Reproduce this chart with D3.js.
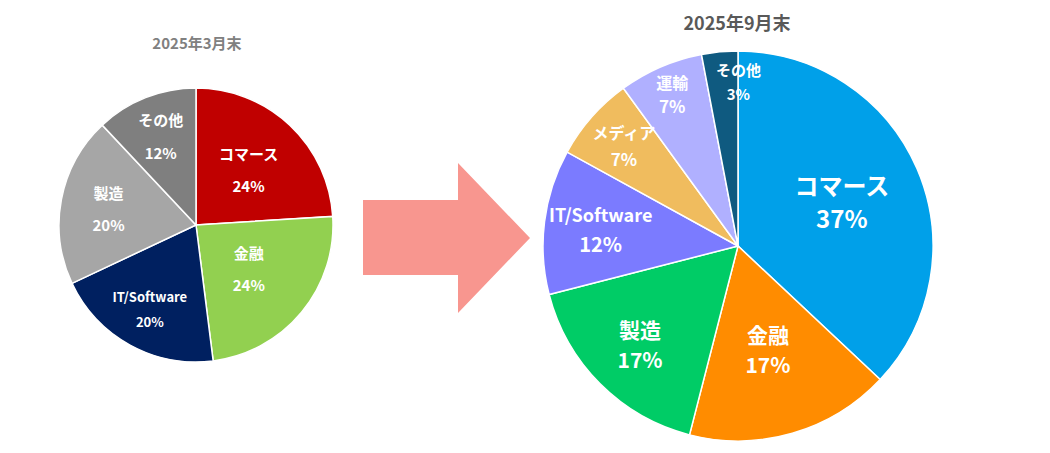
<!DOCTYPE html>
<html><head><meta charset="utf-8">
<script src="https://d3js.org/d3.v7.min.js"></script>
<style>body{margin:0;background:#fff}svg text{font-family:"Noto Sans CJK JP","Noto Sans",sans-serif;font-weight:bold}</style>
</head><body><svg id="c" width="1050" height="453"></svg>
<script>
const titles = ["2025年3月末", "2025年9月末"];
const marCats = ["コマース", "金融", "IT/Software", "製造", "その他"];
const marVals = [24, 24, 20, 20, 12];
const sepCats = ["コマース", "金融", "製造", "IT/Software", "メディア", "運輸", "その他"];
const sepVals = [37, 17, 17, 12, 7, 7, 3];

const marColors = ["#C00000", "#92D050", "#002060", "#A6A6A6", "#7F7F7F"];
const sepColors = ["#00A0E9", "#FF8C00", "#00CC66", "#7B7BFF", "#F0BC5E", "#B0B0FF", "#0F5A80"];
const svg = d3.select("#c");

function drawPie(cats, vals, colors, cx, cy, r, labFrac, labDx, nameSize, pctSize, gap, title, tx, ty, tsize, tcol) {
  const g = svg.append("g").attr("transform", `translate(${cx},${cy})`);
  const pie = d3.pie().sort(null).value(d => d)(vals);
  const arc = d3.arc().innerRadius(0).outerRadius(r);
  g.selectAll("path").data(pie).join("path").attr("d", arc)
    .attr("fill", (d, i) => colors[i]).attr("stroke", "#fff").attr("stroke-width", 1.5);
  pie.forEach((d, i) => {
    const a = (d.startAngle + d.endAngle) / 2, rr = r * labFrac[i];
    const x = Math.sin(a) * rr + labDx[i], y = -Math.cos(a) * rr;
    g.append("text").attr("x", x).attr("y", y - gap[i] / 2).attr("text-anchor", "middle")
      .attr("fill", "#fff").attr("font-size", nameSize[i]).attr("dominant-baseline", "central").text(cats[i]);
    g.append("text").attr("x", x).attr("y", y + gap[i] / 2).attr("text-anchor", "middle")
      .attr("fill", "#fff").attr("font-size", pctSize[i]).attr("dominant-baseline", "central").text(vals[i] + "%");
  });
  svg.append("text").attr("x", tx).attr("y", ty).attr("text-anchor", "middle")
    .attr("font-size", tsize).attr("fill", tcol).attr("dominant-baseline", "central").text(title);
}

drawPie(marCats, marVals, marColors, 196, 225, 137,
  [0.56, 0.5, 0.7, 0.65, 0.7], [0, 0, 0, 0, 0], [15, 15, 13, 15, 15], [15, 15, 13, 15, 15], [32, 32, 25, 32, 33],
  titles[0], 197, 42, 15, "#808080");

drawPie(sepCats, sepVals, sepColors, 738, 246, 195,
  [0.58, 0.55, 0.71, 0.71, 0.78, 0.85, 0.85], [0, 0, 0, 0, 0, 0, 16], [24, 21, 21, 18, 16, 16, 15], [24, 21, 21, 20, 17, 17, 15],
  [33, 30, 30, 30, 26, 23, 24], titles[1], 737, 22, 18, "#595959");

svg.append("path").attr("d", "M363,200 H458 V163 L530,238 L458,313 V275 H363 Z").attr("fill", "#F8968F");
</script></body></html>
